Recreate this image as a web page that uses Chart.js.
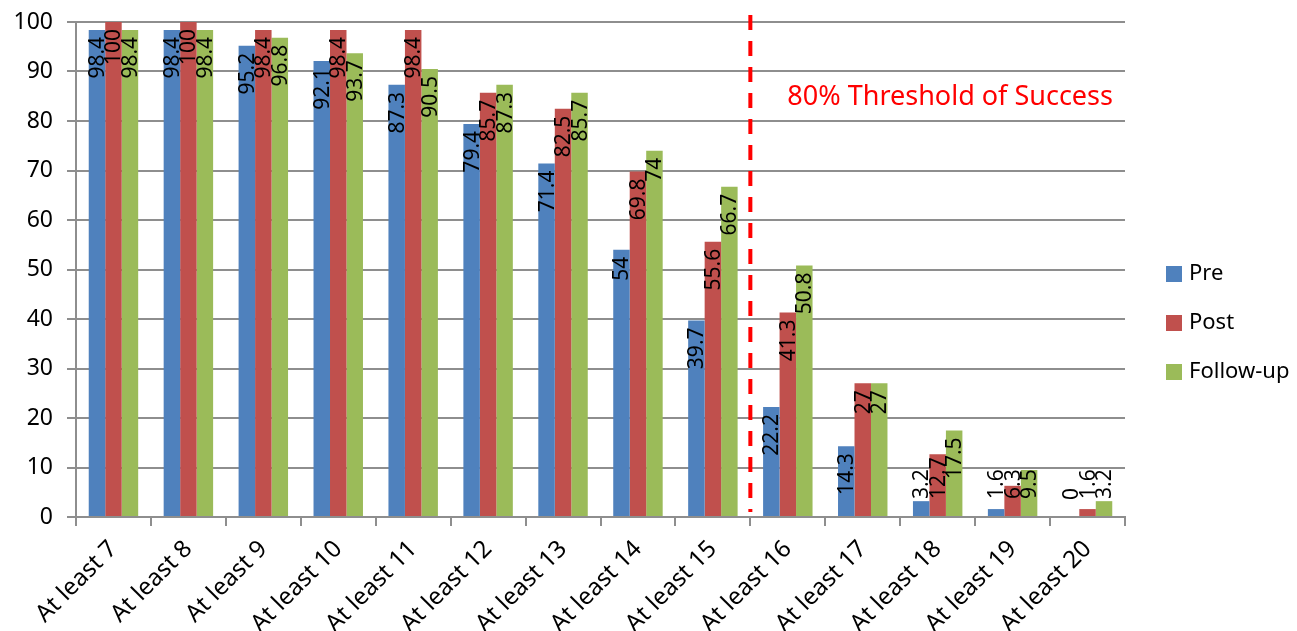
<!DOCTYPE html>
<html lang="en">
<head>
    <meta charset="UTF-8">
    <title>At least N - Pre / Post / Follow-up</title>
    <script src="https://cdn.jsdelivr.net/npm/chart.js"></script>
    <style>
        body {
            margin: 0;
            background-color: #ffffff;
        }
        .chart-box {
            width: 1297px;
            height: 631px;
        }
    </style>
</head>
<body>

    <div class="chart-box">
        <canvas id="myChart"></canvas>
    </div>

    <script>
        // данные с картинки
        const categories = ['At least 7', 'At least 8', 'At least 9', 'At least 10', 'At least 11',
            'At least 12', 'At least 13', 'At least 14', 'At least 15', 'At least 16',
            'At least 17', 'At least 18', 'At least 19', 'At least 20'];
        const preValues = [98.4, 98.4, 95.2, 92.1, 87.3, 79.4, 71.4, 54, 39.7, 22.2, 14.3, 3.2, 1.6, 0];
        const postValues = [100, 100, 98.4, 98.4, 98.4, 85.7, 82.5, 69.8, 55.6, 41.3, 27, 12.7, 6.3, 1.6];
        const followValues = [98.4, 98.4, 96.8, 93.7, 90.5, 87.3, 85.7, 74, 66.7, 50.8, 27, 17.5, 9.5, 3.2];
        const yTicks = [0, 10, 20, 30, 40, 50, 60, 70, 80, 90, 100];
        const thresholdAfter = 'At least 15';
        const thresholdText = '80% Threshold of Success';

        const FONT = "'Noto Sans', sans-serif";
        const gridGray = '#8e8e8e';

        // подписи значений внутри столбцов, повернутые на 90 градусов
        const barLabels = {
            id: 'barLabels',
            afterDatasetsDraw(chart) {
                const ctx = chart.ctx;
                ctx.save();
                ctx.font = '21px ' + FONT;
                ctx.fillStyle = '#000000';
                ctx.textAlign = 'right';
                ctx.textBaseline = 'middle';
                chart.data.datasets.forEach((ds, i) => {
                    const meta = chart.getDatasetMeta(i);
                    meta.data.forEach((bar, j) => {
                        const text = String(ds.data[j]);
                        const w = ctx.measureText(text).width;
                        let d = 7;
                        if (bar.y + d + w > bar.base - 17) {
                            d = bar.base - 17 - w - bar.y;
                        }
                        ctx.save();
                        ctx.translate(bar.x, bar.y);
                        ctx.rotate(-Math.PI / 2);
                        ctx.fillText(text, -d, 1);
                        ctx.restore();
                    });
                });
                ctx.restore();
            }
        };

        // красная пунктирная линия и надпись
        const thresholdLine = {
            id: 'thresholdLine',
            afterDraw(chart) {
                const ctx = chart.ctx;
                const x = chart.scales.x;
                const y = chart.scales.y;
                const idx = categories.indexOf(thresholdAfter);
                const lx = (x.getPixelForValue(idx) + x.getPixelForValue(idx + 1)) / 2;
                ctx.save();
                ctx.strokeStyle = '#ff0000';
                ctx.lineWidth = 4;
                ctx.setLineDash([15, 11]);
                ctx.beginPath();
                ctx.moveTo(lx, chart.chartArea.top - 7);
                ctx.lineTo(lx, chart.chartArea.bottom - 5);
                ctx.stroke();
                ctx.setLineDash([]);
                ctx.font = '27px ' + FONT;
                ctx.fillStyle = '#ff0000';
                ctx.textAlign = 'left';
                ctx.textBaseline = 'middle';
                ctx.fillText(thresholdText, lx + 37, y.getPixelForValue(84.8));
                ctx.restore();
            }
        };

        // легенда справа
        const sideLegend = {
            id: 'sideLegend',
            afterDraw(chart) {
                const ctx = chart.ctx;
                ctx.save();
                ctx.font = '22px ' + FONT;
                ctx.textAlign = 'left';
                ctx.textBaseline = 'middle';
                chart.data.datasets.forEach((ds, i) => {
                    const cy = 274 + i * 49;
                    ctx.fillStyle = ds.backgroundColor;
                    ctx.fillRect(1166, cy - 8, 16, 16);
                    ctx.fillStyle = '#000000';
                    ctx.fillText(ds.label, 1189, cy);
                });
                ctx.restore();
            }
        };

        const ctx = document.getElementById('myChart').getContext('2d');
        const myChart = new Chart(ctx, {
            type: 'bar',
            data: {
                labels: categories,
                datasets: [
                    { label: 'Pre', data: preValues, backgroundColor: '#4f81bd' },
                    { label: 'Post', data: postValues, backgroundColor: '#c0504d' },
                    { label: 'Follow-up', data: followValues, backgroundColor: '#9bbb59' }
                ]
            },
            options: {
                responsive: true,
                maintainAspectRatio: false,
                animation: false,
                layout: {
                    padding: { top: 22, right: 172, left: 0, bottom: 0 }
                },
                datasets: {
                    bar: {
                        categoryPercentage: 0.66,
                        barPercentage: 1.0,
                        borderWidth: 0
                    }
                },
                plugins: {
                    legend: { display: false },
                    tooltip: { enabled: false }
                },
                scales: {
                    x: {
                        grid: {
                            offset: true,
                            drawOnChartArea: false,
                            drawTicks: true,
                            tickLength: 9,
                            color: gridGray,
                            lineWidth: 2
                        },
                        border: { color: gridGray, width: 2 },
                        ticks: {
                            minRotation: 45,
                            maxRotation: 45,
                            padding: 9,
                            color: '#000000',
                            font: { family: FONT, size: 24 }
                        },
                        afterFit(scale) {
                            scale.height = 114;
                            scale.paddingLeft = 0;
                            scale.paddingRight = 0;
                        }
                    },
                    y: {
                        min: 0,
                        max: 100,
                        afterBuildTicks(scale) {
                            scale.ticks = yTicks.map(v => ({ value: v }));
                        },
                        grid: {
                            color: gridGray,
                            lineWidth: 2,
                            tickLength: 9
                        },
                        border: { color: gridGray, width: 2 },
                        ticks: {
                            padding: 14,
                            color: '#000000',
                            font: { family: FONT, size: 23 }
                        },
                        afterFit(scale) {
                            scale.width = 76;
                            scale.paddingTop = 0;
                            scale.paddingBottom = 0;
                        }
                    }
                }
            },
            plugins: [barLabels, thresholdLine, sideLegend]
        });
    </script>

</body>
</html>
